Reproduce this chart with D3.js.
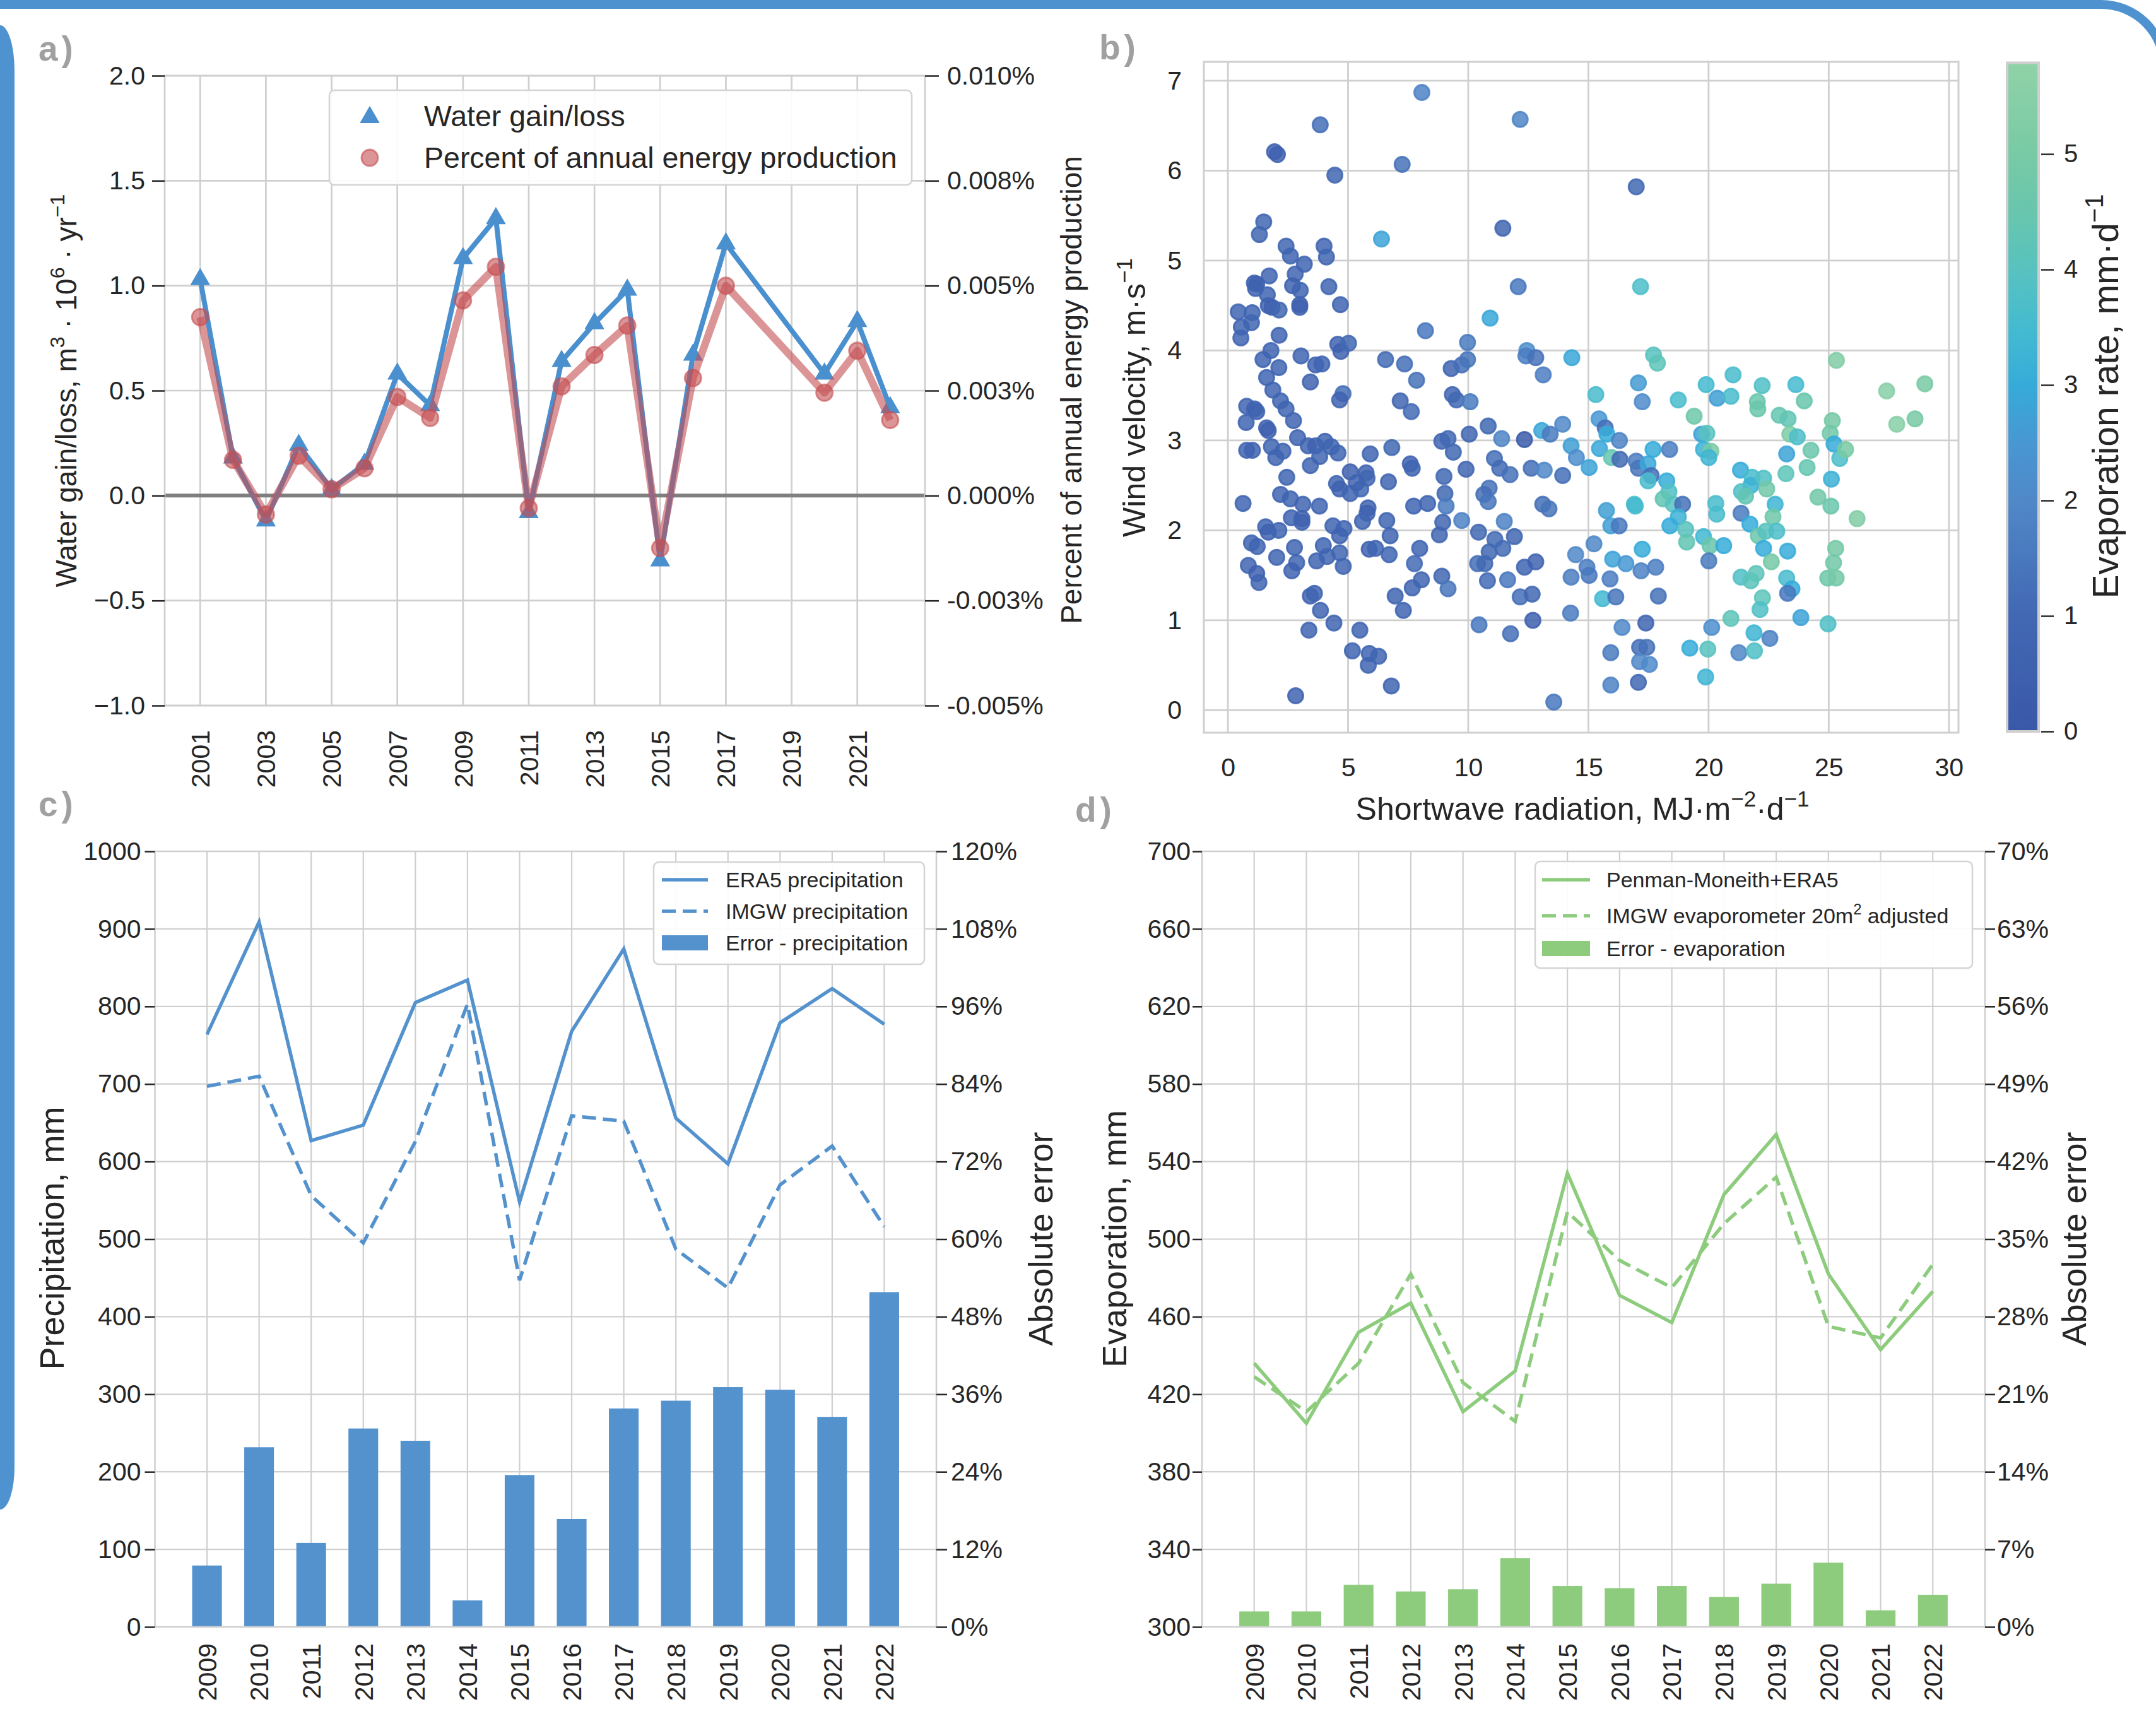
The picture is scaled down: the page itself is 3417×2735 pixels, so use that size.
<!DOCTYPE html>
<html>
<head>
<meta charset="utf-8">
<script src="https://cdn.jsdelivr.net/npm/d3@7"></script>
<style>
body { margin: 0; background: #fff; }
svg { display: block; }
</style>
</head>
<body>
<svg id="fig" width="3417" height="2735"></svg>
<script>
// ---------- panel a: water gain/loss ----------
var aYears   = [2001,2002,2003,2004,2005,2006,2007,2008,2009,2010,2011,2012,2013,2014,2015,2016,2017,2020,2021,2022];
var aWater   = [1.03,0.18,-0.12,0.24,0.03,0.15,0.58,0.43,1.13,1.32,-0.08,0.64,0.82,0.98,-0.31,0.67,1.20,0.58,0.83,0.42];
var aPercent = [0.00425,0.00085,-0.00045,0.00095,0.00015,0.00065,0.00235,0.00185,0.00465,0.00545,-0.0003,0.0026,0.00335,0.00405,-0.00125,0.0028,0.005,0.00245,0.00345,0.0018];
var aTickYears = [2001,2003,2005,2007,2009,2011,2013,2015,2017,2019,2021];
var aTicksL = [-1,-0.5,0,0.5,1,1.5,2];
var aTickLabelsL = ["\u22121.0","\u22120.5","0.0","0.5","1.0","1.5","2.0"];
var aTicksR = [-0.005,-0.0025,0,0.0025,0.005,0.0075,0.010];
var aTickLabelsR = ["-0.005%","-0.003%","0.000%","0.003%","0.005%","0.008%","0.010%"];

// ---------- panel b: wind vs shortwave radiation ----------
var bRadiation = [
  8.07,3.84,1.94,2.06,7.25,4.45,1.49,1.31, 6.39,2.42,2.60,4.00,4.10,3.18,1.72,1.10,
  1.20,1.15,2.80,2.69,3.01,1.64,1.68,1.84, 2.13,2.99,2.99,4.20,4.68,0.43,1.01,0.98,
  0.56,0.54,2.13,8.22,1.79,1.46,2.12,1.61, 1.87,3.04,3.65,3.91,3.43,4.57,4.70,5.02,
  6.56,7.35,7.85,4.79,4.65,7.17,2.19,0.78,
  2.42,2.73,1.11,1.20,0.76,1.61,1.68,7.63, 0.78,1.02,1.81,2.29,1.99,2.90,3.34,3.65,
  4.04,4.30,4.58,3.82,3.43,2.45,5.92,6.82, 7.59,7.67,5.09,5.75,5.79,4.52,4.65,5.09,
  5.53,5.35,6.68,0.63,2.19,2.60,3.12,3.81, 2.64,3.08,3.08,5.83,5.79,5.60,6.61,7.73,
  8.31,1.57,1.68,2.12,4.37,4.83,4.65,6.75, 8.80,0.98,1.22,2.03,2.77,2.86,2.66,3.97,
  4.13,4.65,3.69,4.80,5.88,6.14,6.71,7.98, 7.76,0.85,1.20,1.29,7.67,8.05,6.96,7.30,
  3.43,3.60,3.85,4.41,3.37,5.49,5.18,5.88, 6.27,5.84,6.80,2.82,
  12.16,16.99,11.44,12.08,17.17,10.91,9.97,9.29, 9.73,9.97,12.44,12.40,12.81,13.12,14.31,17.71,
  17.87,17.08,15.31,9.34,9.51,10.08,17.24,18.74,
  19.40,10.83,10.04,8.90,9.16,9.38,9.91,8.99, 9.03,9.08,8.94,8.90,9.16,11.39,12.34,13.06,
  13.41,13.93,14.28,14.50,15.03,15.44,15.70,15.77, 16.29,15.46,15.96,16.31,17.69,18.38,16.99,17.08,
  17.48,17.61,17.48,18.26,18.35,18.11,18.53,18.92, 18.74,18.39,19.05,19.09,11.09,11.31,11.74,12.62,
  13.16,13.93,10.87,10.65,10.83,13.10,13.36,9.73, 11.50,15.75,16.91,16.95,10.43,11.11,11.44,10.87,
  11.92,10.39,10.69,10.80,11.64,12.34,12.81,12.16, 12.66,10.45,11.76,12.69,13.56,14.26,14.28,14.94,
  15.03,14.47,15.23,15.93,16.28,16.01,16.56,17.24, 17.19,17.80,15.90,15.59,16.14,17.91,16.40,17.39,
  15.93,17.13,17.43,17.13,17.54,15.93,17.08,19.22,
  25.32,21.02,19.90,22.23,23.63,27.41,29.00,20.36,20.93,23.98,22.03,
  22.05,22.94,23.31,27.83,28.59,25.15,19.71,19.93, 19.79,20.10,20.01,23.38,23.69,25.06,25.22,25.46,
  25.70,24.26,23.25,24.10,23.22,25.11,21.33,21.81, 21.76,22.29,22.42,21.37,21.54,24.55,25.09,20.30,
  20.34,22.77,22.68,26.18,21.35,21.72,22.07,22.38, 22.84,19.79,20.06,20.63,20.01,22.29,22.61,23.29,
  25.29,25.20,24.96,25.31,21.35,21.76,21.98,23.25, 23.47,23.29,22.24,22.14,23.84,20.93,24.97,20.13,
  21.89,22.55,19.97,21.26,21.91,19.88
];
var bWind = [
  6.87,6.51,6.21,6.18,6.07,5.95,5.43,5.29, 5.24,5.16,5.05,5.16,5.04,4.96,4.83,4.75,
  4.74,4.69,4.85,4.72,4.67,4.62,4.50,4.48, 4.45,4.51,4.48,4.71,4.51,4.43,4.42,4.31,
  4.26,4.14,4.17,4.22,4.00,3.90,3.81,3.70, 3.56,3.94,3.84,3.85,3.65,4.07,3.99,4.08,
  3.90,3.85,3.67,3.52,3.45,3.44,3.44,3.38,
  3.35,3.22,3.35,3.32,3.20,3.14,3.11,3.32, 2.89,2.89,2.93,2.88,2.81,3.03,2.94,2.94,
  2.99,2.93,2.86,2.82,2.72,2.59,2.85,2.92, 2.74,2.69,2.65,2.64,2.58,2.52,2.46,2.41,
  2.46,2.53,2.54,2.30,2.40,2.35,2.29,2.27, 2.14,2.13,2.09,2.25,2.19,2.10,2.11,2.27,
  2.30,2.04,1.98,2.00,2.05,2.02,1.94,1.94, 1.95,1.86,1.82,1.70,1.81,1.64,1.55,1.83,
  1.71,1.75,1.66,1.60,1.79,1.80,1.73,1.80, 1.63,1.61,1.52,1.42,1.36,1.45,1.27,1.11,
  1.27,1.30,1.11,0.97,0.89,0.89,0.66,0.63, 0.60,0.50,0.27,0.16,
  6.57,5.82,5.36,4.71,4.71,4.36,4.09,3.80, 3.84,3.90,4.00,3.94,3.92,3.73,3.92,3.95,
  3.86,3.64,3.51,3.51,3.45,3.43,3.43,3.45,
  3.27,3.16,3.07,2.99,3.02,2.87,2.68,2.60, 2.41,2.27,2.09,1.49,1.35,3.02,3.01,3.11,
  3.07,3.18,2.94,2.81,2.70,3.24,3.14,3.07, 3.00,2.91,2.81,2.79,2.90,2.90,2.77,2.69,
  2.74,2.61,2.55,2.55,2.43,2.35,2.29,2.29, 2.15,2.05,2.01,1.87,2.80,2.69,2.62,2.69,
  2.67,2.61,2.47,2.40,2.32,2.29,2.24,2.11, 2.10,2.22,2.29,2.27,1.98,1.90,1.80,1.76,
  1.93,1.63,1.63,1.44,1.45,1.59,1.65,1.26, 1.29,0.95,0.85,1.00,0.09,1.08,1.48,1.59,
  1.50,1.73,1.85,2.05,2.05,1.68,1.63,1.79, 1.55,1.59,1.46,1.24,1.26,1.27,0.92,0.97,
  0.64,0.70,0.70,0.54,0.51,0.28,0.31,0.69,
  3.89,3.73,3.62,3.61,3.62,3.55,3.63,3.47,3.49,3.44,3.43,
  3.35,3.28,3.24,3.18,3.24,3.22,3.07,3.08, 2.90,2.88,2.81,3.07,3.04,3.08,2.96,2.80,
  2.90,2.89,2.85,2.70,2.63,2.57,2.67,2.59, 2.50,2.58,2.46,2.43,2.38,2.37,2.27,2.30,
  2.18,2.29,2.15,2.13,2.19,2.07,1.94,1.99, 1.99,1.93,1.83,1.83,1.66,1.80,1.65,1.77,
  1.80,1.64,1.47,1.47,1.48,1.44,1.52,1.47, 1.35,1.30,1.25,1.12,1.03,1.02,0.96,0.92,
  0.86,0.80,0.68,0.64,0.66,0.37
];
var bEvap = [
  1.8,1.2,0.7,0.6,1.3,0.9,0.9,0.9, 2.8,0.9,0.8,0.8,0.9,0.8,0.8,0.7,
  0.6,0.7,0.8,0.7,0.8,0.8,0.7,0.6, 0.9,0.5,0.6,0.8,0.8,0.8,0.8,0.9,
  0.8,0.8,0.8,1.5,0.8,0.8,0.8,0.8, 0.8,0.8,0.7,0.8,0.7,0.7,0.6,1.0,
  1.1,1.2,1.3,1.2,0.7,0.9,0.8,0.8,
  0.8,0.8,0.6,0.7,0.8,0.7,0.6,1.1, 0.8,0.7,0.8,0.8,0.8,0.8,0.8,0.7,
  0.9,0.8,0.8,0.9,0.8,0.8,0.8,1.0, 0.7,0.8,0.6,0.7,0.9,0.8,0.6,0.8,
  1.0,0.7,0.8,0.8,0.8,0.8,0.8,0.8, 0.8,0.6,0.7,0.7,0.6,0.8,0.8,0.8,
  0.8,0.8,0.7,0.8,0.8,0.9,0.7,0.8, 0.9,0.8,0.8,0.8,0.8,0.8,0.7,0.8,
  0.8,0.9,0.8,0.8,0.7,0.8,0.8,0.8, 1.1,0.8,0.6,0.8,0.8,0.8,0.8,0.8,
  0.7,0.8,0.8,0.8,0.8,0.8,0.8,0.8, 0.8,0.8,0.8,0.7,
  1.9,1.0,0.9,1.5,3.7,2.9,1.6,0.8, 1.2,1.4,2.2,1.7,1.3,1.7,2.9,4.0,
  4.2,2.6,3.6,0.8,1.0,1.6,2.1,3.6,
  4.7,1.0,0.9,0.9,1.0,1.0,0.9,1.0, 1.0,1.6,0.9,0.9,1.4,1.9,0.2,2.9,
  1.6,2.0,2.7,2.2,2.8,2.5,1.2,3.0, 1.8,2.9,4.4,1.1,3.0,1.7,1.7,1.4,
  2.9,1.2,3.6,3.0,3.8,4.3,4.0,1.3, 3.2,3.0,4.0,4.3,1.2,1.1,1.3,1.2,
  2.0,1.2,1.3,1.2,1.4,1.2,1.4,1.8, 1.8,2.7,3.6,3.5,1.0,1.1,1.1,1.0,
  0.9,1.2,1.0,1.1,1.5,0.8,0.7,1.2, 1.0,1.5,1.2,0.5,1.5,1.6,1.7,1.7,
  1.5,2.0,2.0,2.7,1.5,2.8,2.5,3.0, 1.8,1.7,1.7,3.4,1.4,1.3,2.0,0.8,
  1.6,1.2,1.3,2.0,2.1,1.8,1.0,3.0,
  5.3,3.6,3.5,3.8,3.5,5.5,5.0,2.7,3.6,4.5,4.6,
  4.6,4.4,4.3,5.5,5.0,4.9,2.8,4.0, 3.2,5.0,3.3,5.2,3.7,4.8,3.0,3.7,
  5.0,4.6,2.8,4.4,4.2,3.2,3.0,3.6, 3.2,3.8,4.8,3.8,4.3,4.8,4.6,3.6,
  3.6,3.3,4.7,5.3,1.6,3.0,4.6,4.0, 3.7,3.4,4.5,3.0,1.6,3.0,4.9,3.0,
  4.9,4.8,4.7,4.9,3.8,4.1,4.2,3.6, 3.0,1.5,4.2,3.8,2.8,4.2,3.8,2.2,
  3.3,1.8,4.0,2.0,3.8,3.3
];
var bTicksX = [0,5,10,15,20,25,30];
var bTicksY = [0,1,2,3,4,5,6,7];
var cbarDomain = [0, 5.79];
var cbarTicks = [0,1,2,3,4,5];
var cmapStops  = [0, 1, 2, 2.5, 3, 3.5, 4, 4.5, 5, 5.79];
var cmapColors = ["#3a58a8","#4268b3","#5088c8","#4897d3","#36abd9","#45bbd0","#58c2bf","#68c6ad","#78caa5","#90d2a8"];

// ---------- panels c and d ----------
var cdYears = [2009,2010,2011,2012,2013,2014,2015,2016,2017,2018,2019,2020,2021,2022];
var cEra5  = [764,909,627,647,805,834,548,768,874,656,597,779,823,777];
var cImgw  = [697,710,556,495,626,803,447,659,652,487,437,570,620,516];
var cError = [9.5,27.8,13.0,30.7,28.8,4.1,23.5,16.7,33.8,35.0,37.1,36.7,32.5,51.8];
var cTicksL = [0,100,200,300,400,500,600,700,800,900,1000];
var cTicksR = [0,12,24,36,48,60,72,84,96,108,120];

var dPenman = [436,405,452,467,411,432,534,471,457,523,554,482,443,473];
var dImgw   = [429,411,436,482,426,406,514,489,475,508,532,455,449,487];
var dError  = [1.4,1.4,3.8,3.2,3.4,6.2,3.7,3.5,3.7,2.7,3.9,5.8,1.5,2.9];
var dTicksL = [300,340,380,420,460,500,540,580,620,660,700];
var dTicksR = [0,7,14,21,28,35,42,49,56,63,70];

var FONT = '"Liberation Sans", Arial, Helvetica, sans-serif';
var ink = "#262626";
var gridColor = "#cfcfcf";
var svg = d3.select("#fig");

// ----- helpers -----
function richText(x, y, parts, size, rotate, anchor) {
  var t = svg.append("text")
    .attr("transform", "translate(" + x + "," + y + ")" + (rotate ? " rotate(-90)" : ""))
    .attr("text-anchor", anchor || "middle")
    .attr("font-family", FONT).attr("font-size", size).attr("fill", ink);
  parts.forEach(function(p, i) {
    var ts = t.append("tspan").text(p[0]);
    if (p[1]) ts.attr("font-size", size * 0.7).attr("dy", -size * 0.42);
    else if (i > 0 && parts[i - 1][1]) ts.attr("dy", size * 0.42);
  });
  return t;
}
function styleAxis(g, size) {
  g.attr("font-family", FONT).attr("font-size", size);
  g.select(".domain").remove();
  g.selectAll(".tick line").attr("stroke", ink).attr("stroke-width", 2.5);
  g.selectAll(".tick text").attr("fill", ink);
}
function rotateTicks(g, offset) {
  g.selectAll(".tick text").attr("transform", "rotate(-90)")
    .attr("x", -offset).attr("y", 0).attr("dy", "0.35em").attr("text-anchor", "end");
}
function frame(x0, y0, x1, y1, w) {
  svg.append("rect").attr("x", x0).attr("y", y0).attr("width", x1 - x0).attr("height", y1 - y0)
    .attr("fill", "none").attr("stroke", gridColor).attr("stroke-width", w || 2.7);
}
function grid(xs, ys, x0, y0, x1, y1, w) {
  var g = svg.append("g").attr("stroke", gridColor).attr("stroke-width", w);
  xs.forEach(function(x) { g.append("line").attr("x1", x).attr("x2", x).attr("y1", y0).attr("y2", y1); });
  ys.forEach(function(y) { g.append("line").attr("x1", x0).attr("x2", x1).attr("y1", y).attr("y2", y); });
}
function legendBox(x0, y0, x1, y1) {
  svg.append("rect").attr("x", x0).attr("y", y0).attr("width", x1 - x0).attr("height", y1 - y0)
    .attr("rx", 8).attr("fill", "#fff").attr("fill-opacity", 0.92)
    .attr("stroke", "#d4d4d4").attr("stroke-width", 2.5);
}
function legendText(x, y, parts, size) {
  return richText(x, y + size * 0.35, parts, size, false, "start");
}
function panelLabel(x, y, s) {
  svg.append("text").attr("x", x).attr("y", y).text(s)
    .attr("font-family", FONT).attr("font-weight", "bold").attr("font-size", 55)
    .attr("letter-spacing", 6).attr("fill", "#a0a0a0");
}

// ----- decorative frame -----
svg.append("path").attr("d", "M -20 7 H 3330 A 100 100 0 0 1 3430 107 V 400")
  .attr("fill", "none").attr("stroke", "#4e93cf").attr("stroke-width", 14);
svg.append("path").attr("d", "M 0 40 A 23 72 0 0 1 23 112 V 2325 A 23 67 0 0 1 0 2392 Z")
  .attr("fill", "#4e93cf");

// ===================== panel a =====================
var ax = d3.scaleLinear().domain([1999.92, 2023.06]).range([261, 1466]);
var ayL = d3.scaleLinear().domain([-1, 2]).range([1118, 120]);
var ayR = d3.scaleLinear().domain([-0.005, 0.010]).range([1118, 120]);

grid(aTickYears.map(ax), aTicksL.map(ayL), 261, 120, 1466, 1118, 2.7);
svg.append("line").attr("x1", 261).attr("x2", 1466).attr("y1", ayL(0)).attr("y2", ayL(0))
  .attr("stroke", "#7f7f7f").attr("stroke-width", 6);

var aBlue = "#4a90cf", aRed = "#c44e52";
svg.append("path").datum(aYears)
  .attr("d", d3.line().x(function(d) { return ax(d); }).y(function(d, i) { return ayL(aWater[i]); }))
  .attr("fill", "none").attr("stroke", aBlue).attr("stroke-width", 8).attr("stroke-linejoin", "round");
svg.append("g").selectAll("path").data(aYears).enter().append("path")
  .attr("d", d3.symbol().type(d3.symbolTriangle).size(430))
  .attr("transform", function(d, i) { return "translate(" + ax(d) + "," + ayL(aWater[i]) + ")"; })
  .attr("fill", aBlue);
svg.append("path").datum(aYears)
  .attr("d", d3.line().x(function(d) { return ax(d); }).y(function(d, i) { return ayR(aPercent[i]); }))
  .attr("fill", "none").attr("stroke", aRed).attr("stroke-opacity", 0.6)
  .attr("stroke-width", 12).attr("stroke-linejoin", "round");
svg.append("g").selectAll("circle").data(aYears).enter().append("circle")
  .attr("cx", function(d) { return ax(d); })
  .attr("cy", function(d, i) { return ayR(aPercent[i]); })
  .attr("r", 13).attr("fill", aRed).attr("fill-opacity", 0.6)
  .attr("stroke", aRed).attr("stroke-opacity", 0.6).attr("stroke-width", 3);

frame(261, 120, 1466, 1118);

var gaL = svg.append("g").attr("transform", "translate(261,0)")
  .call(d3.axisLeft(ayL).tickValues(aTicksL).tickFormat(function(d, i) { return aTickLabelsL[i]; }).tickSize(20).tickPadding(11));
styleAxis(gaL, 41);
var gaR = svg.append("g").attr("transform", "translate(1466,0)")
  .call(d3.axisRight(ayR).tickValues(aTicksR).tickFormat(function(d, i) { return aTickLabelsR[i]; }).tickSize(22).tickPadding(13));
styleAxis(gaR, 41);
var gaB = svg.append("g").attr("transform", "translate(0,1118)")
  .call(d3.axisBottom(ax).tickValues(aTickYears).tickFormat(d3.format("d")).tickSize(0));
styleAxis(gaB, 41);
rotateTicks(gaB, 39);

richText(121, 619, [["Water gain/loss, m"], ["3", 1], [" \u00b7 10"], ["6", 1], [" \u00b7 yr"], ["\u22121", 1]], 46, true);
richText(1714, 618, [["Percent of annual energy production"]], 46, true);

legendBox(522, 143, 1445, 293);
svg.append("path").attr("d", d3.symbol().type(d3.symbolTriangle).size(430)).attr("transform", "translate(586,186)").attr("fill", aBlue);
svg.append("circle").attr("cx", 586).attr("cy", 250).attr("r", 13).attr("fill", aRed).attr("fill-opacity", 0.6)
  .attr("stroke", aRed).attr("stroke-opacity", 0.6).attr("stroke-width", 3);
legendText(672, 184, [["Water gain/loss"]], 46.5);
legendText(672, 250, [["Percent of annual energy production"]], 46.5);

// ===================== panel b =====================
var bx = d3.scaleLinear().domain([-1.0, 30.4]).range([1908, 3104]);
var by = d3.scaleLinear().domain([-0.25, 7.21]).range([1161, 98]);
var evapColor = d3.scaleLinear().domain(cmapStops).range(cmapColors).interpolate(d3.interpolateRgb).clamp(true);

grid(bTicksX.map(bx), bTicksY.map(by), 1908, 98, 3104, 1161, 2.8);
svg.append("g").selectAll("circle").data(bRadiation).enter().append("circle")
  .attr("cx", function(d) { return bx(d); })
  .attr("cy", function(d, i) { return by(bWind[i]); })
  .attr("r", 12)
  .attr("fill", function(d, i) { return evapColor(bEvap[i]); }).attr("fill-opacity", 0.85)
  .attr("stroke", function(d, i) { return evapColor(bEvap[i]); }).attr("stroke-opacity", 0.85)
  .attr("stroke-width", 3);
frame(1908, 98, 3104, 1161, 3);

var gbL = svg.append("g").attr("transform", "translate(1908,0)")
  .call(d3.axisLeft(by).tickValues(bTicksY).tickFormat(d3.format("d")).tickSize(0).tickPadding(35));
styleAxis(gbL, 41);
var gbB = svg.append("g").attr("transform", "translate(0,1161)")
  .call(d3.axisBottom(bx).tickValues(bTicksX).tickFormat(d3.format("d")).tickSize(0).tickPadding(40));
styleAxis(gbB, 41);
richText(1815, 630, [["Wind velocity, m\u00b7s"], ["\u22121", 1]], 50, true);
richText(2508, 1299, [["Shortwave radiation, MJ\u00b7m"], ["\u22122", 1], ["\u00b7d"], ["\u22121", 1]], 50, false);

// colorbar
var cby = d3.scaleLinear().domain(cbarDomain).range([1159, 99.5]);
var grad = svg.append("defs").append("linearGradient").attr("id", "cbar")
  .attr("x1", 0).attr("y1", 1).attr("x2", 0).attr("y2", 0);
cmapStops.forEach(function(v, i) {
  grad.append("stop").attr("offset", v / cbarDomain[1]).attr("stop-color", cmapColors[i]);
});
svg.append("rect").attr("x", 3181).attr("y", cby(cbarDomain[1])).attr("width", 50)
  .attr("height", cby(0) - cby(cbarDomain[1])).attr("fill", "url(#cbar)");
frame(3181, cby(cbarDomain[1]), 3231, cby(0), 4);
var gcb = svg.append("g").attr("transform", "translate(3235,0)")
  .call(d3.axisRight(cby).tickValues(cbarTicks).tickFormat(d3.format("d")).tickSize(20).tickPadding(16));
styleAxis(gcb, 40);
richText(3357, 628, [["Evaporation rate, mm\u00b7d"], ["\u22121", 1]], 57, true);

// ===================== panel c =====================
var cx = d3.scaleLinear().domain([2008, 2023]).range([245.5, 1484]);
var cyL = d3.scaleLinear().domain([0, 1000]).range([2578, 1349]);
var cyR = d3.scaleLinear().domain([0, 120]).range([2578, 1349]);
var cBlue = "#5492ce";
var barHalf = 0.285;

grid(cdYears.map(cx), cTicksL.map(cyL), 245.5, 1349, 1484, 2578, 2.2);
svg.append("g").selectAll("rect").data(cdYears).enter().append("rect")
  .attr("x", function(d) { return cx(d - barHalf); })
  .attr("width", function(d) { return cx(d + barHalf) - cx(d - barHalf); })
  .attr("y", function(d, i) { return cyR(cError[i]); })
  .attr("height", function(d, i) { return cyR(0) - cyR(cError[i]); })
  .attr("fill", cBlue);
svg.append("path").datum(cdYears)
  .attr("d", d3.line().x(function(d) { return cx(d); }).y(function(d, i) { return cyL(cEra5[i]); }))
  .attr("fill", "none").attr("stroke", cBlue).attr("stroke-width", 5.5);
svg.append("path").datum(cdYears)
  .attr("d", d3.line().x(function(d) { return cx(d); }).y(function(d, i) { return cyL(cImgw[i]); }))
  .attr("fill", "none").attr("stroke", cBlue).attr("stroke-width", 5.5).attr("stroke-dasharray", "22,11");
frame(245.5, 1349, 1484, 2578, 2.5);

var gcL = svg.append("g").attr("transform", "translate(245.5,0)")
  .call(d3.axisLeft(cyL).tickValues(cTicksL).tickFormat(d3.format("d")).tickSize(16).tickPadding(6));
styleAxis(gcL, 41);
var gcR = svg.append("g").attr("transform", "translate(1484,0)")
  .call(d3.axisRight(cyR).tickValues(cTicksR).tickFormat(function(d) { return d + "%"; }).tickSize(17).tickPadding(6));
styleAxis(gcR, 41);
var gcB = svg.append("g").attr("transform", "translate(0,2578)")
  .call(d3.axisBottom(cx).tickValues(cdYears).tickFormat(d3.format("d")).tickSize(0));
styleAxis(gcB, 41);
rotateTicks(gcB, 26);
richText(101, 1962, [["Precipitation, mm"]], 54, true);
richText(1668, 1963, [["Absolute error"]], 54, true);

legendBox(1036, 1366, 1465, 1528);
svg.append("line").attr("x1", 1049).attr("x2", 1122).attr("y1", 1394).attr("y2", 1394).attr("stroke", cBlue).attr("stroke-width", 5.5);
svg.append("line").attr("x1", 1049).attr("x2", 1122).attr("y1", 1444).attr("y2", 1444).attr("stroke", cBlue).attr("stroke-width", 5.5).attr("stroke-dasharray", "22,11");
svg.append("rect").attr("x", 1049).attr("y", 1482).attr("width", 73).attr("height", 24).attr("fill", cBlue);
legendText(1150, 1394, [["ERA5 precipitation"]], 34);
legendText(1150, 1444, [["IMGW precipitation"]], 34);
legendText(1150, 1494, [["Error - precipitation"]], 34);

// ===================== panel d =====================
var dx = d3.scaleLinear().domain([2008, 2023]).range([1905, 3146]);
var dyL = d3.scaleLinear().domain([300, 700]).range([2578, 1349]);
var dyR = d3.scaleLinear().domain([0, 70]).range([2578, 1349]);
var dGreen = "#8dcc7d";

grid(cdYears.map(dx), dTicksL.map(dyL), 1905, 1349, 3146, 2578, 2.2);
svg.append("g").selectAll("rect").data(cdYears).enter().append("rect")
  .attr("x", function(d) { return dx(d - barHalf); })
  .attr("width", function(d) { return dx(d + barHalf) - dx(d - barHalf); })
  .attr("y", function(d, i) { return dyR(dError[i]); })
  .attr("height", function(d, i) { return dyR(0) - dyR(dError[i]); })
  .attr("fill", dGreen);
svg.append("path").datum(cdYears)
  .attr("d", d3.line().x(function(d) { return dx(d); }).y(function(d, i) { return dyL(dPenman[i]); }))
  .attr("fill", "none").attr("stroke", dGreen).attr("stroke-width", 5.5);
svg.append("path").datum(cdYears)
  .attr("d", d3.line().x(function(d) { return dx(d); }).y(function(d, i) { return dyL(dImgw[i]); }))
  .attr("fill", "none").attr("stroke", dGreen).attr("stroke-width", 5.5).attr("stroke-dasharray", "22,11");
frame(1905, 1349, 3146, 2578, 2.5);

var gdL = svg.append("g").attr("transform", "translate(1905,0)")
  .call(d3.axisLeft(dyL).tickValues(dTicksL).tickFormat(d3.format("d")).tickSize(15).tickPadding(3));
styleAxis(gdL, 41);
var gdR = svg.append("g").attr("transform", "translate(3146,0)")
  .call(d3.axisRight(dyR).tickValues(dTicksR).tickFormat(function(d) { return d + "%"; }).tickSize(16).tickPadding(3));
styleAxis(gdR, 41);
var gdB = svg.append("g").attr("transform", "translate(0,2578)")
  .call(d3.axisBottom(dx).tickValues(cdYears).tickFormat(d3.format("d")).tickSize(0));
styleAxis(gdB, 41);
rotateTicks(gdB, 26);
richText(1785, 1963, [["Evaporation, mm"]], 54, true);
richText(3306, 1963, [["Absolute error"]], 54, true);

legendBox(2433, 1365, 3126, 1534);
svg.append("line").attr("x1", 2444).attr("x2", 2520).attr("y1", 1394).attr("y2", 1394).attr("stroke", dGreen).attr("stroke-width", 5.5);
svg.append("line").attr("x1", 2444).attr("x2", 2520).attr("y1", 1451).attr("y2", 1451).attr("stroke", dGreen).attr("stroke-width", 5.5).attr("stroke-dasharray", "22,11");
svg.append("rect").attr("x", 2444).attr("y", 1491).attr("width", 76).attr("height", 24).attr("fill", dGreen);
legendText(2546, 1394, [["Penman-Moneith+ERA5"]], 34);
legendText(2546, 1451, [["IMGW evaporometer 20m"], ["2", 1], [" adjusted"]], 34);
legendText(2546, 1503, [["Error - evaporation"]], 34);

// panel labels
panelLabel(61, 96, "a)");
panelLabel(1742, 94, "b)");
panelLabel(61, 1293, "c)");
panelLabel(1704, 1302, "d)");
</script>
</body>
</html>
